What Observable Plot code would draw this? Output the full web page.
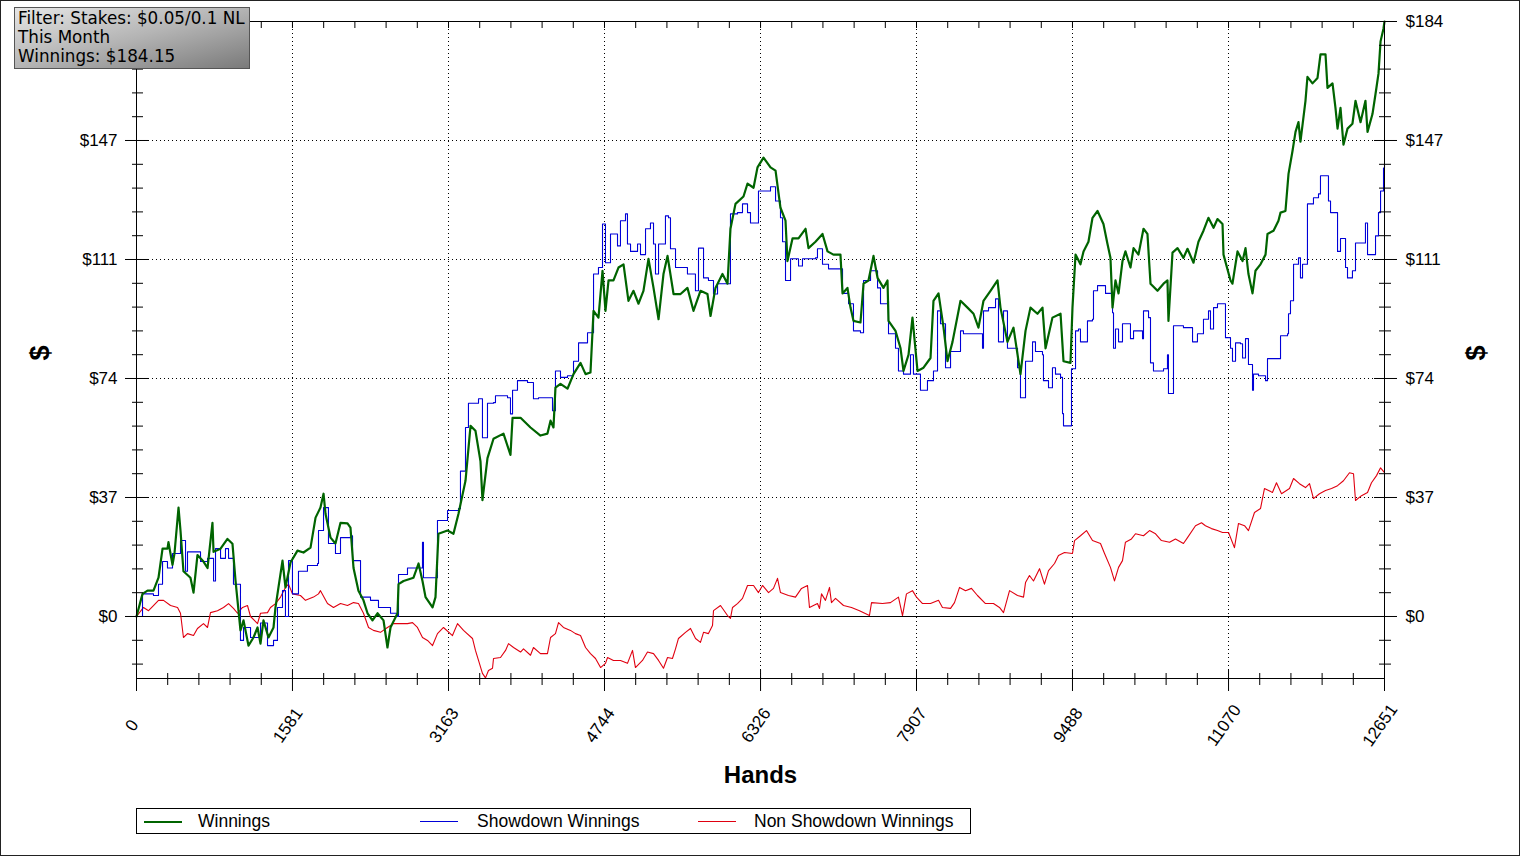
<!DOCTYPE html>
<html><head><meta charset="utf-8">
<script src="https://cdn.jsdelivr.net/npm/d3@7"></script>
<script src="https://cdn.jsdelivr.net/npm/@observablehq/plot@0.6"></script>
<style>
body{margin:0;background:#fff;}
#wrap{position:relative;width:1520px;height:856px;overflow:hidden;background:#fff;}
#wrap svg{position:absolute;left:0;top:0;}
#border{position:absolute;left:0;top:0;width:1520px;height:856px;box-sizing:border-box;border:1px solid #222;pointer-events:none;}
#info{position:absolute;left:14px;top:7px;width:231px;height:59px;border:1px solid #555;background:linear-gradient(to bottom right,#e6e6e6 0%,#b4b4b4 50%,#7a7a7a 100%);font-family:"DejaVu Sans",Verdana,sans-serif;font-size:16.8px;line-height:19px;padding:1px 0 0 3px;color:#000;white-space:nowrap;box-sizing:content-box;overflow:hidden;}
#legend{position:absolute;left:136px;top:808px;width:833px;height:24px;border:1px solid #000;font-family:"Liberation Sans",Arial,sans-serif;font-size:17.5px;color:#000;}
.sw{position:absolute;top:12px;width:38px;}
.lt{position:absolute;top:2px;line-height:20px;white-space:nowrap;}
</style></head>
<body><div id="wrap"><div id="chart"></div><div id="info"></div><div id="legend"></div><div id="border"></div></div>
<script>
// ---- data ----
const winHands = [0,61,112,172,223,264,314,324,365,385,426,446,476,547,578,618,679,720,770,781,852,922,973,1004,1054,1085,1135,1186,1227,1257,1287,1338,1389,1409,1439,1480,1510,1561,1632,1693,1764,1815,1865,1896,1916,1967,2017,2068,2139,2169,2200,2250,2301,2342,2392,2443,2504,2544,2575,2646,2656,2707,2808,2859,2899,2930,3001,3031,3061,3153,3213,3264,3335,3386,3436,3487,3507,3558,3619,3720,3791,3812,3893,3994,4095,4166,4197,4227,4247,4298,4369,4430,4501,4552,4602,4633,4683,4724,4754,4785,4835,4886,4937,4987,5038,5089,5139,5190,5241,5292,5342,5383,5444,5515,5585,5646,5717,5788,5819,5869,5940,5991,6021,6072,6153,6194,6255,6295,6356,6427,6478,6528,6579,6599,6650,6711,6782,6812,6883,6954,7005,7065,7136,7157,7207,7238,7268,7339,7370,7420,7471,7512,7572,7613,7623,7694,7745,7775,7826,7866,7917,7978,8049,8079,8130,8181,8221,8272,8353,8424,8485,8535,8586,8657,8728,8758,8829,8890,8961,9012,9062,9133,9184,9215,9285,9367,9397,9468,9488,9519,9569,9600,9650,9691,9742,9802,9843,9873,9894,9924,9955,9995,10025,10076,10107,10157,10208,10248,10279,10350,10411,10451,10461,10502,10553,10613,10654,10715,10765,10816,10866,10918,10958,11009,11019,11090,11110,11161,11212,11242,11272,11313,11343,11394,11445,11465,11526,11576,11597,11647,11678,11718,11749,11779,11799,11850,11870,11921,11972,12002,12053,12073,12124,12154,12175,12205,12235,12276,12326,12357,12408,12458,12479,12529,12560,12590,12611,12641,12651];
const winValues = [0,7,8,8,12,21,21,23,16,19.5,33.7,26.6,14,12,7.4,19,17,15,29,20,21,24,22.5,11,-4.3,-1.2,-9,-6.5,-3.4,-8.4,-1.2,-6.5,-3.4,2.8,9,17.3,9,16.7,20.4,19.8,21.3,30.6,33.7,38,31.8,24.4,22.6,29,28.8,27.5,15,8,5,1,-1.2,1,-1.2,-9.6,-3.4,1,10,11,12,16.4,11,6,2.8,6,25.6,26.6,25.6,31.8,42,59,57.5,48,36,49,55,56.6,50,61.5,61.5,58.5,56,56.6,60.6,58.5,70.8,72,70.5,75,78.5,75,75.5,94.6,92.5,107,94.6,104,104,108,109,97.7,100.8,96.8,100.8,110.7,101.7,92,106,111.6,99.8,99.8,101.7,94.6,100.8,99.8,93,101.7,106,103,120,127.7,130,134,132.7,139,142,139,138,126.5,122.5,110,117,117,120,114,116,118.4,113,112,112,100,101.7,95.6,91.5,91,103,104,111.6,104.8,101.7,104,91.5,88.4,83,76,81,92.5,76,77,80,97.7,100,89.4,79,85,97.7,95.6,93.7,89.4,97.7,100.8,104,95.6,85,89.4,75,88.4,95.6,93.7,95.6,83,92.5,93.7,79,78.5,95.6,112,109,113,116,123.4,125.5,121.5,115.3,111,95.6,104,100,110,113,108,114,112,120,118.4,103,100.8,103,104,91.5,112.6,114,111,113.8,109.5,116,119.4,123.4,120.3,123,121.5,112,104,103,113,110,114,106,100,107,109,112,118.4,119.4,122.5,125,125.5,137,144,150,153,147,159.6,167,165,166.7,174,174,163.6,165,157.4,151,157.4,146,151,152.5,159.6,153,159.6,150,155.5,161.7,168,178,182,184.15];

const sdHands = [0,61,172,223,264,314,365,446,497,517,618,649,720,781,801,852,902,933,983,1054,1085,1156,1257,1328,1389,1429,1480,1510,1541,1581,1642,1733,1835,1845,1896,1946,2017,2068,2169,2190,2271,2372,2453,2575,2646,2656,2747,2879,2899,2909,3011,3051,3153,3264,3284,3335,3365,3467,3507,3558,3619,3639,3761,3791,3812,3862,3964,4024,4075,4197,4217,4247,4298,4369,4430,4481,4572,4633,4683,4724,4754,4805,4876,4906,4957,4977,5008,5079,5109,5160,5210,5241,5261,5292,5362,5393,5413,5464,5585,5666,5697,5748,5798,5849,5890,6021,6092,6143,6194,6224,6305,6427,6478,6528,6549,6579,6630,6711,6751,6883,6903,6954,7015,7157,7218,7268,7339,7370,7441,7512,7542,7613,7623,7694,7724,7775,7846,7876,7947,8018,8079,8120,8150,8201,8252,8353,8383,8535,8576,8586,8637,8708,8738,8789,8829,8931,8961,9012,9083,9113,9184,9194,9245,9285,9316,9367,9387,9397,9478,9519,9549,9569,9640,9691,9701,9742,9823,9894,9904,9924,9955,9995,10076,10107,10198,10208,10259,10279,10309,10411,10451,10461,10512,10613,10705,10755,10816,10867,10887,10918,10958,11039,11090,11110,11141,11191,11212,11242,11272,11313,11323,11374,11445,11465,11597,11668,11678,11698,11729,11779,11799,11820,11870,11931,11982,12002,12083,12104,12175,12205,12256,12276,12326,12357,12458,12479,12560,12590,12611,12641,12651];
const sdValues = [0,7,6.5,10,17,15,19.5,23.5,14,20,20,17,18,11,21,18,21,18,10,-7.4,-3.4,-6.5,-2,-9,-7.4,2.8,8,0,17.3,7,14,15.8,16.4,26.6,33.7,22.6,19.5,24.4,25,17.3,6,5,2.8,1,0,13,15,15,23,12,12,29.7,32.8,33.4,45,58.5,66,67.4,55.3,66,66.2,68.3,67.7,62.7,70,73,72.4,67.4,67.7,67.7,63.7,76,74,74.5,79,84.7,87.8,106,108,121.5,109.5,118.4,114.7,122.5,124.6,115.3,113,115.3,112,120,121.8,115.3,106,115.3,124,123.4,113.8,108,106,100.8,114,104.8,104,99.8,103,124.6,125,127.7,125,121.8,131.7,133,128.6,123.4,116,104,110.7,108.5,110.7,111,113.8,109,107.6,100,96.8,88.4,87.8,104,107,101.7,96.8,97.7,87.5,83,76,75,81,75,70,73,76,94.6,90.6,77,82,88.4,87.5,87.5,83,94.6,95.6,98.3,85,94.6,83,77,67.7,79,85,82,81,73,70.8,77,75,74,62.8,59,76.7,88.4,89,85,91.5,92,100.8,102.4,100,94,83,89,85,90.6,86,88.4,86,94.6,92.5,78.5,76,76.7,81,69,90,89.4,85,87.5,92,94.6,89,95.6,96.8,86.3,83,79,84.7,84.4,80,86,78,70,75,74.5,73,79.8,86.9,87.5,93.7,97.7,109,111,104.8,109,127.7,129.6,130.8,136.4,128.6,125,113,117,108,104.8,107,115.6,121.8,112,117.8,125,131.7,138.8,140];

const nsdHands = [0,71,122,172,223,274,345,416,446,476,517,578,618,679,720,750,821,882,933,983,1024,1075,1125,1156,1227,1257,1328,1358,1409,1460,1510,1541,1581,1662,1713,1794,1845,1865,1936,1997,2068,2139,2200,2250,2301,2352,2402,2473,2544,2605,2747,2798,2848,2899,2950,3001,3051,3112,3203,3254,3315,3406,3436,3467,3507,3538,3568,3609,3619,3690,3741,3771,3822,3893,3923,3994,4024,4095,4166,4197,4247,4278,4328,4399,4450,4501,4552,4602,4653,4704,4754,4775,4835,4906,4977,5028,5058,5129,5180,5241,5292,5342,5383,5433,5464,5494,5565,5616,5667,5717,5748,5798,5839,5849,5920,5991,6021,6042,6092,6143,6194,6255,6305,6346,6407,6457,6498,6528,6609,6680,6741,6802,6822,6903,6924,6944,6984,7025,7045,7086,7167,7248,7329,7430,7451,7562,7643,7724,7765,7805,7866,7907,7968,8049,8130,8170,8252,8292,8343,8404,8464,8525,8606,8687,8748,8789,8850,8931,8992,9012,9052,9093,9154,9204,9245,9306,9346,9407,9488,9509,9569,9630,9691,9772,9813,9873,9914,9955,9995,10025,10086,10127,10208,10269,10330,10390,10472,10532,10613,10654,10735,10796,10836,10897,10958,11009,11070,11130,11171,11232,11272,11333,11394,11434,11515,11556,11607,11688,11729,11789,11850,11891,11931,11992,12053,12114,12175,12235,12296,12337,12357,12418,12479,12519,12570,12611,12651];
const nsdValues = [0,2.8,1.8,3.4,5,5,3.4,2.8,1,-6.5,-5.3,-5.9,-3.7,-2.2,-3.4,1.2,1.8,2.8,4,2.5,1,2.8,3.4,0,-2.2,1,1.2,2.8,4,6,9,10,7,6.5,5,6,7,8,4,2.8,4,3.4,4.3,4,1,-3.4,-4.3,-4.9,-3.4,-2.2,-2.2,-1.9,-3.4,-6.5,-7.4,-9,-5.3,-3.4,-5.9,-2.2,-4.3,-6.8,-10.5,-13.6,-17.6,-19,-16.7,-16,-13,-12.7,-10.5,-8.4,-9.6,-11,-10,-12,-9.6,-11.5,-11.5,-6.5,-5.3,-1.9,-3.4,-4.3,-5.3,-5.9,-9.6,-11.5,-13,-15.8,-14.5,-12.7,-13.6,-13.6,-14.5,-10.5,-15.8,-13.6,-11,-11.5,-13.6,-16,-12.7,-13,-10,-6.8,-4.9,-3.7,-6.8,-8,-4.9,-5.3,-2.8,1.8,3.4,0.3,-0.6,2.8,4,5.6,9.6,9.6,7.4,9.6,7.4,8.7,11.8,7.4,6.5,6,8.7,9.6,2.8,4,2.5,7,5,9,4.3,5.6,3.4,2.8,1.8,0.3,4.3,4,4.3,6,0.3,7,8,6,4,4,5,2.8,2.5,4.3,9,8,8.7,6.5,4,4,2.8,1.2,8,6.5,6,10.5,12.7,11,14.8,10,14.2,16.4,18.9,19.8,19.5,23.5,25,26.6,23.5,22.6,19.5,15.2,11,15.2,17.3,23,24,25.6,25,26.6,25.6,23.5,23,24,22.6,24.4,28.1,29,28.1,27.2,26.6,26,26,21.3,28.8,28.1,26.6,32.2,33.4,39.6,38.4,41.4,38,39.6,42.7,41.1,39.9,41.1,36.5,38,39,39.6,40.5,42,44.5,44.2,35.9,37.4,38.4,41.4,43.6,46,44.5];

const seriesNames = ["Winnings", "Showdown Winnings", "Non Showdown Winnings"];
const seriesColors = ["#006400", "#0000d8", "#e00010"];
const xTickValues = [0, 1581, 3163, 4744, 6326, 7907, 9488, 11070, 12651];
const xTickLabels = ["0", "1581", "3163", "4744", "6326", "7907", "9488", "11070", "12651"];
const yTickValues = [0, 36.83, 73.66, 110.49, 147.32, 184.15];
const yTickLabels = ["$0", "$37", "$74", "$111", "$147", "$184"];
const xTitle = "Hands";
const yTitle = "$";
const infoLines = ["Filter: Stakes: $0.05/0.1 NL", "This Month", "Winnings: $184.15"];
const yMin = -19.19;

// ---- build ----
const rows = (h, v) => h.map((x, i) => ({hand: x, value: v[i]}));
const winRows = rows(winHands, winValues);
const sdRows = rows(sdHands, sdValues);
const nsdRows = rows(nsdHands, nsdValues);

function minors(major, extraBelow) {
  const out = [];
  for (let i = 0; i < major.length - 1; i++) {
    const a = major[i], b = major[i + 1];
    for (let k = 1; k < 5; k++) out.push(a + (b - a) * k / 5);
  }
  if (extraBelow) {
    const s = (major[1] - major[0]) / 5;
    for (let k = 1; k * s <= -yMin; k++) out.push(major[0] - k * s);
  }
  return out;
}
const xMinor = minors(xTickValues, false);
const yMinor = minors(yTickValues, true);
const blank = () => "";
const font = "'Liberation Sans', Arial, sans-serif";
// left top label sits under the info box in the reference, so it is not drawn
const yLeftIdx = yTickValues.map((d, i) => i).filter(i => i < yTickValues.length - 1);
const yRightIdx = yTickValues.map((d, i) => i);

const chart = Plot.plot({
  width: 1520, height: 856,
  marginTop: 21, marginRight: 136, marginBottom: 178, marginLeft: 136,
  x: {domain: [0, 12651], axis: null},
  y: {domain: [yMin, 184.15], axis: null},
  style: {background: "transparent", fontFamily: font, overflow: "visible", color: "#000"},
  marks: [
    Plot.ruleY(yTickValues.slice(1, -1), {stroke: "#000", strokeDasharray: "1,3", shapeRendering: "crispEdges"}),
    Plot.ruleX(xTickValues.slice(1, -1), {stroke: "#000", strokeDasharray: "1,3", shapeRendering: "crispEdges"}),
    Plot.ruleY([0], {stroke: "#000", shapeRendering: "crispEdges"}),
    Plot.line(nsdRows, {x: "hand", y: "value", stroke: seriesColors[2], strokeWidth: 1.1}),
    Plot.line(sdRows, {x: "hand", y: "value", stroke: seriesColors[1], strokeWidth: 1.1, curve: "step-after"}),
    Plot.line(winRows, {x: "hand", y: "value", stroke: seriesColors[0], strokeWidth: 2.2}),
    Plot.frame({stroke: "#000", shapeRendering: "crispEdges"}),
    // left axis ticks
    Plot.axisY(yTickValues, {anchor: "left", tickSize: 23, dx: 12, tickFormat: blank, label: null}),
    Plot.axisY(yMinor, {anchor: "left", tickSize: 11, dx: 7, tickFormat: blank, label: null}),
    // right axis ticks
    Plot.axisY(yTickValues, {anchor: "right", tickSize: 23, dx: -11, tickFormat: blank, label: null}),
    Plot.axisY(yMinor, {anchor: "right", tickSize: 12, dx: -6, tickFormat: blank, label: null}),
    // bottom ticks
    Plot.axisX(xTickValues, {anchor: "bottom", tickSize: 21, dy: -8, tickFormat: blank, label: null}),
    Plot.axisX(xMinor, {anchor: "bottom", tickSize: 12, dy: -5, tickFormat: blank, label: null}),
    // top ticks
    Plot.axisX(xTickValues.concat(xMinor), {anchor: "top", tickSize: 6, dy: 6, tickFormat: blank, label: null}),
    // tick labels
    Plot.text(yLeftIdx, {y: i => yTickValues[i], text: i => yTickLabels[i], frameAnchor: "left", dx: -19, textAnchor: "end", fontSize: 17, fill: "#000"}),
    Plot.text(yRightIdx, {y: i => yTickValues[i], text: i => yTickLabels[i], frameAnchor: "right", dx: 21, textAnchor: "start", fontSize: 17, fill: "#000"}),
    Plot.text(xTickValues, {x: d => d, text: (d, i) => xTickLabels[i], frameAnchor: "bottom", dy: 50, rotate: -55, textAnchor: "middle", fontSize: 17, fill: "#000"}),
    // titles
    Plot.text([yTitle], {text: d => d, frameAnchor: "left", dx: -96, dy: 3, rotate: -90, textAnchor: "middle", fontSize: 27, fontWeight: "bold", fill: "#000"}),
    Plot.text([yTitle], {text: d => d, frameAnchor: "right", dx: 92, dy: 3, rotate: -90, textAnchor: "middle", fontSize: 27, fontWeight: "bold", fill: "#000"}),
    Plot.text([xTitle], {text: d => d, frameAnchor: "bottom", dy: 104, textAnchor: "middle", fontSize: 24, fontWeight: "bold", fill: "#000"})
  ]
});
document.getElementById("chart").appendChild(chart);

// info box
document.getElementById("info").innerHTML = infoLines.map(t => `<div>${t}</div>`).join("");

// legend
const legendPos = [[7, 61], [283, 340], [561, 617]];
const lg = document.getElementById("legend");
seriesNames.forEach((name, i) => {
  const sw = document.createElement("div");
  sw.className = "sw";
  sw.style.left = legendPos[i][0] + "px";
  sw.style.height = (i === 0 ? 2 : 1) + "px";
  sw.style.background = seriesColors[i];
  lg.appendChild(sw);
  const t = document.createElement("div");
  t.className = "lt";
  t.style.left = legendPos[i][1] + "px";
  t.textContent = name;
  lg.appendChild(t);
});
</script>
</body></html>
